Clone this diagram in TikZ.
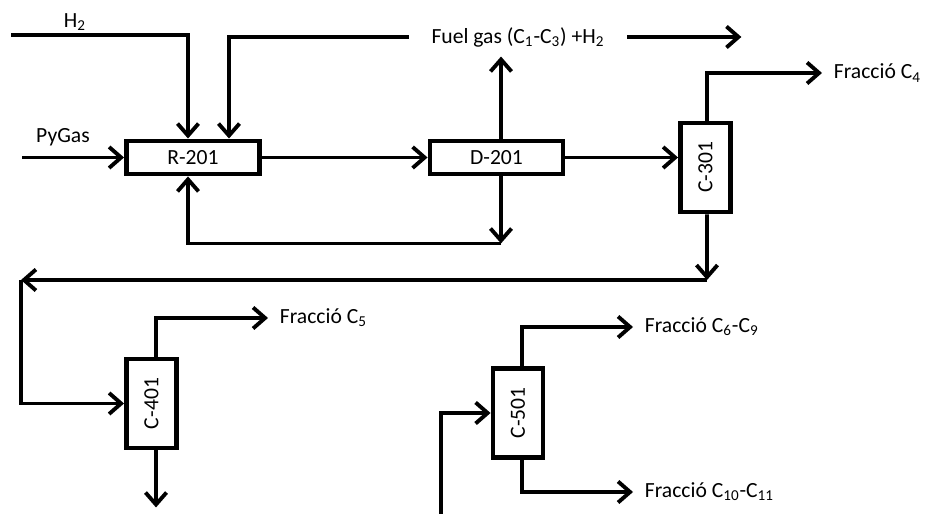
\documentclass[tikz,border=0pt]{standalone}
\usepackage{fontspec}
\setmainfont{Carlito}
\usetikzlibrary{arrows.meta}

\begin{document}
\begin{tikzpicture}[line width=2.2pt, >={Straight Barb[length=2.4mm,width=4.2mm]},
    every node/.style={font=\fontsize{12.3}{14}\selectfont},
    unit/.style={draw, line width=2.8pt, minimum width=2.66cm, minimum height=0.66cm, inner sep=0pt},
    column/.style={draw, line width=2.8pt, minimum width=1.0cm, minimum height=1.78cm, inner sep=0pt},
    stream/.style={right, inner xsep=0.2cm}]
    \useasboundingbox (0,0) rectangle (18.5,10.28);

    % units
    \node[unit] (r201) at (3.86,7.13) {R-201};
    \node[unit] (d201) at (9.93,7.13) {D-201};
    \node[column, label={[rotate=90]center:C-301}] (c301) at (14.11,6.93) {};
    \node[column, label={[rotate=90]center:C-401}] (c401) at (3.03,2.21) {};
    \node[column, label={[rotate=90]center:C-501}] (c501) at (10.36,2.02) {};

    % feeds to R-201
    \coordinate (h2) at (0.22,9.58);
    \node[above, inner sep=1pt] (h2lab) at (1.5,9.6) {H\textsubscript{2}};
    \draw[->] (h2) -| ([xshift=-1mm]r201.north);
    \coordinate (py) at (0.44,7.13);
    \node[above] (pylab) at (1.26,7.2) {PyGas};
    \draw[->] (py) -- (r201.west);

    % fuel gas and recycles
    \node[inner xsep=0.42cm] (fuel) at (10.36,9.54) {Fuel gas (C\textsubscript{1}-C\textsubscript{3}) +H\textsubscript{2}};
    \draw[->] (fuel.west) -| ([xshift=7.2mm]r201.north);
    \draw[->] (fuel.east) -- ++(2.28,0);
    \draw[->] (r201) -- (d201);
    \draw[->] ([xshift=0.9mm]d201.north) -- ++(0,1.64);
    \draw[->] ([xshift=0.9mm]d201.south) -- ++(0,-1.34) coordinate (back);
    \draw[->] (back) -| ([xshift=-1mm]r201.south);
    \draw[->] (d201.east) -- (d201.east -| c301.west);

    % C-301
    \node[stream] (c4) at (16.44,8.82) {Fracció C\textsubscript{4}};
    \draw[->] ([xshift=0.3mm]c301.north) |- (c4.west);
    \coordinate (split) at (14.14,4.68);
    \coordinate (turn) at (0.42,4.68);
    \draw[->] ([xshift=0.3mm]c301.south) -- (split);
    \draw[->] (split) -- (turn);
    \draw[->] (turn) |- (c401.west);

    % C-401
    \node[stream] (c5) at (5.36,3.92) {Fracció C\textsubscript{5}};
    \draw[->] ([xshift=0.9mm]c401.north) |- (c5.west);
    \draw[->] ([xshift=0.9mm]c401.south) -- ++(0,-1.14);

    % C-501
    \node[stream] (c69) at (12.66,3.74) {Fracció C\textsubscript{6}-C\textsubscript{9}};
    \node[stream] (c1011) at (12.66,0.44) {Fracció C\textsubscript{10}-C\textsubscript{11}};
    \draw[->] ([xshift=0.8mm]c501.north) |- (c69.west);
    \draw[->] ([xshift=0.8mm]c501.south) |- (c1011.west);
    \coordinate (feed5) at (8.82,0);
    \draw[->] (feed5) |- (c501.west);
\end{tikzpicture}
\end{document}
